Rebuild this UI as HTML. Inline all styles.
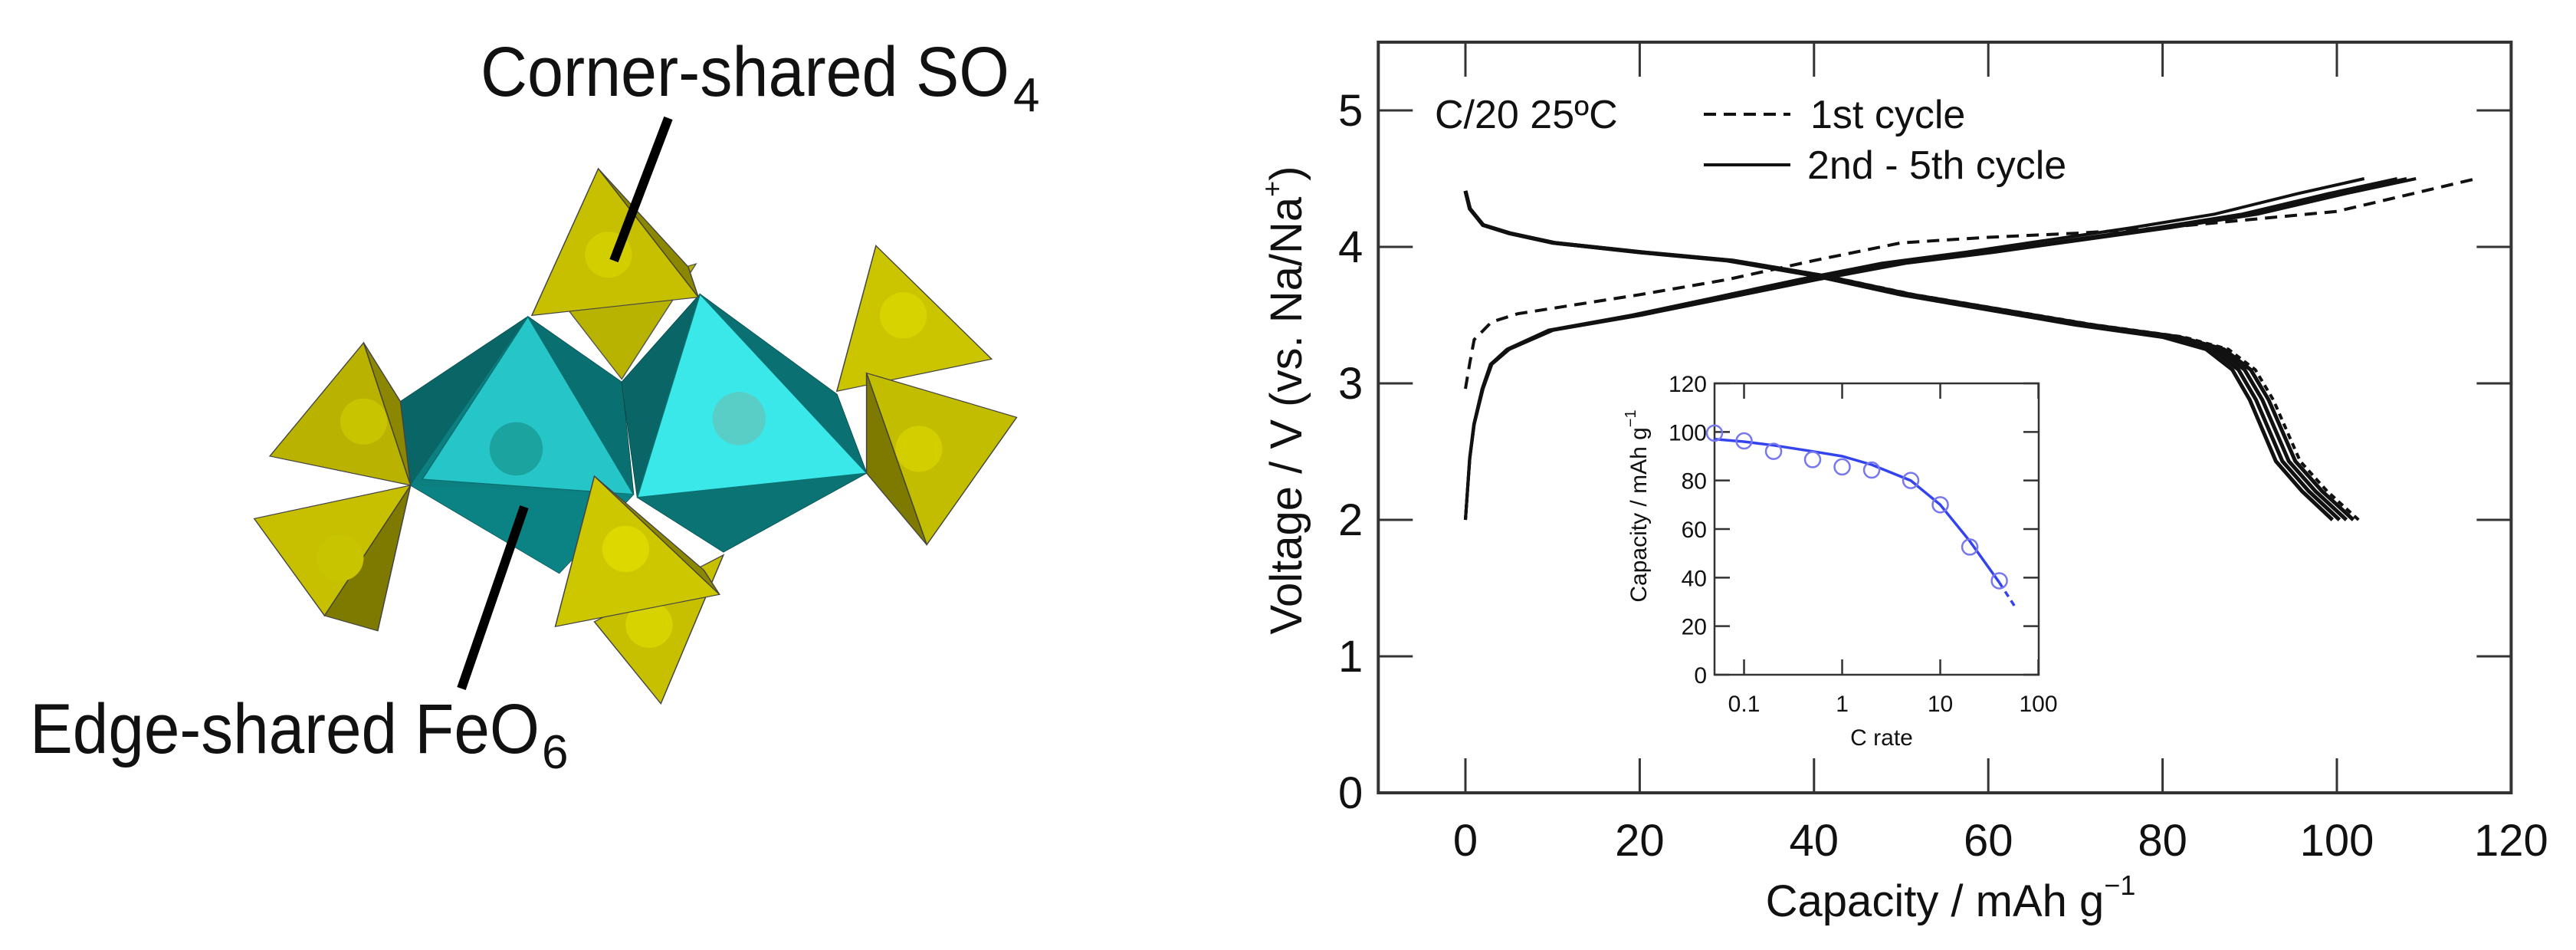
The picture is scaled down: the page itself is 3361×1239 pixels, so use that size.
<!DOCTYPE html>
<html><head><meta charset="utf-8"><style>
html,body{margin:0;padding:0;background:#fff;}
svg{display:block;}
text{font-family:"Liberation Sans",Arial,sans-serif;fill:#111;}
</style></head><body>
<svg id="fig" width="3361" height="1239" viewBox="0 0 3361 1239" xmlns="http://www.w3.org/2000/svg">
<g id="structure" transform="scale(1.0204,0.7911)">
  <polygon points="720,500 795,625 890,435" fill="#b8b200" stroke="#555" stroke-width="1.5"/>
  <polygon points="675,522 512,662 525,800 715,945 810,815 795,630" fill="#0c7f80" stroke="#044" stroke-width="1.5"/>
  <polygon points="675,522 512,662 525,800" fill="#0a6566"/>
  <polygon points="675,522 795,630 810,815" fill="#0a6f70"/>
  <polygon points="675,522 540,790 810,815" fill="#26c6c8" stroke="#0a6f70" stroke-width="1.5"/>
  <polygon points="525,800 810,815 715,945" fill="#0b8384"/>
  <ellipse cx="660" cy="740" rx="34" ry="44" fill="#1a9e98" opacity="0.85"/>
  <polygon points="895,485 795,630 815,820 925,910 1108,780 1070,650" fill="#0c7f80" stroke="#044" stroke-width="1.5"/>
  <polygon points="895,485 795,630 815,820" fill="#0a6566"/>
  <polygon points="895,485 1070,650 1108,780" fill="#0a7071"/>
  <polygon points="895,485 815,820 1108,780" fill="#3ae8ea" stroke="#0a6f70" stroke-width="1.5"/>
  <polygon points="815,820 1108,780 925,910" fill="#0b7374"/>
  <ellipse cx="945" cy="690" rx="34" ry="44" fill="#5fc9c0" opacity="0.85"/>
  <g stroke="#444" stroke-width="1.5">
    <polygon points="765,278 680,520 893,490" fill="#c6c000"/>
    <polygon points="765,278 893,490 880,440" fill="#8c8700"/>
    <ellipse cx="778" cy="420" rx="30" ry="38" fill="#d2ce00" stroke="none"/>
    <polygon points="1120,405 1070,645 1268,592" fill="#cbc500"/>
    <ellipse cx="1155" cy="520" rx="30" ry="38" fill="#d7d300" stroke="none"/>
    <polygon points="1108,615 1300,688 1185,898" fill="#c3bd00"/>
    <polygon points="1108,615 1185,898 1108,780" fill="#7e7a00"/>
    <ellipse cx="1175" cy="740" rx="30" ry="38" fill="#d2ce00" stroke="none"/>
    <polygon points="465,565 345,752 525,800" fill="#b9b300"/>
    <polygon points="465,565 512,662 525,800" fill="#8c8700"/>
    <ellipse cx="465" cy="695" rx="30" ry="38" fill="#c9c400" stroke="none"/>
    <polygon points="325,855 525,800 415,1015" fill="#c6c000"/>
    <polygon points="525,800 483,1040 415,1015" fill="#7e7a00"/>
    <ellipse cx="435" cy="920" rx="30" ry="38" fill="#c9c400" stroke="none"/>
    <polygon points="760,1025 925,915 845,1160" fill="#c6c000"/>
    <ellipse cx="830" cy="1030" rx="30" ry="38" fill="#d7d300" stroke="none"/>
    <polygon points="760,785 920,980 710,1033" fill="#cdc700"/>
    <polygon points="760,785 920,980 900,940" fill="#8c8700"/>
    <ellipse cx="800" cy="905" rx="30" ry="38" fill="#dcd800" stroke="none"/>
  </g>
</g>
<line x1="872" y1="154" x2="801" y2="340" stroke="#000" stroke-width="12"/>
<line x1="684" y1="661" x2="602" y2="898" stroke="#000" stroke-width="12"/>
<text x="627" y="125" font-size="92" textLength="690" lengthAdjust="spacingAndGlyphs">Corner-shared SO</text>
<text x="1322" y="145" font-size="62">4</text>
<text x="39" y="982" font-size="92" textLength="665" lengthAdjust="spacingAndGlyphs">Edge-shared FeO</text>
<text x="707" y="1002" font-size="62">6</text>
<g id="chart"></g>
</svg>
<script>
const xTicks = [0, 20, 40, 60, 80, 100, 120];
const yTicks = [0, 1, 2, 3, 4, 5];
const charge1Cap = [0, 0.5, 1, 3, 6, 11, 20, 30, 40, 50, 60, 70, 80, 90, 100, 108, 116];
const charge1V   = [2.96, 3.15, 3.32, 3.45, 3.51, 3.56, 3.65, 3.76, 3.9, 4.03, 4.07, 4.1, 4.14, 4.2, 4.26, 4.38, 4.5];
const chargeCap  = [0, 0.5, 1, 2, 3, 5, 10, 20, 30, 40, 50, 60, 70, 80, 90, 100, 108];
const chargeV    = [2.0, 2.45, 2.7, 2.96, 3.14, 3.25, 3.39, 3.5, 3.63, 3.76, 3.88, 3.96, 4.05, 4.14, 4.24, 4.39, 4.5];
const chargeScale = [0.955, 0.99, 1.0, 1.01];
const dischCap = [0, 0.5, 2, 5, 10, 20, 30, 40, 50, 60, 70, 80, 85, 88, 90, 93, 96, 99.5];
const dischV   = [4.41, 4.28, 4.16, 4.1, 4.03, 3.96, 3.9, 3.79, 3.65, 3.54, 3.43, 3.34, 3.25, 3.1, 2.88, 2.43, 2.21, 2.0];
const dischScale = [1.0, 1.008, 1.016, 1.024];
const disch1Scale = 1.03;
const rateX = [0.05, 0.1, 0.2, 0.5, 1, 2, 5, 10, 20, 40];
const rateCap = [99.5, 96.3, 92, 88.6, 85.6, 84.3, 80, 70, 52.6, 38.7];
const fitX = [0.05, 0.1, 0.2, 0.5, 1, 2, 5, 10, 20, 40];
const fitY = [97, 96, 94.5, 92, 90, 86.5, 80, 70, 55, 38];
const fitDashX = [40, 60];
const fitDashY = [38, 27];
const insetXTicks = [0.1, 1, 10, 100];
const insetXLabels = ["0.1", "1", "10", "100"];
const insetYTicks = [0, 20, 40, 60, 80, 100, 120];

const NS = "http://www.w3.org/2000/svg";
const chart = document.getElementById("chart");
function el(tag, attrs, parent) {
  const e = document.createElementNS(NS, tag);
  for (const k in attrs) e.setAttribute(k, attrs[k]);
  (parent || chart).appendChild(e);
  return e;
}
const X0 = 1912, XS = 11.37, Y0 = 1034, YS = 178;
const sx = v => X0 + v * XS;
const sy = v => Y0 - v * YS;
const L = sx(-10), R = sx(120), T = sy(5.5), B = sy(0);

function pathOf(xs, ys, fx, fy, k) {
  return xs.map((x, i) => (i ? "L" : "M") + fx(x * (k || 1)).toFixed(1) + "," + fy(ys[i]).toFixed(1)).join(" ");
}

const frame = el("rect", {x: L, y: T, width: R - L, height: B - T, fill: "none", stroke: "#333", "stroke-width": 4});



xTicks.forEach(v => {
  const x = sx(v);
  if (v < 120) {
    const t1 = el("line", {x1: x, y1: B, x2: x, y2: B - 45, stroke: "#333", "stroke-width": 3});
    
    
    const t2 = el("line", {x1: x, y1: T, x2: x, y2: T + 45, stroke: "#333", "stroke-width": 3});
    
    
  }
  const lb = el("text", {x: x, y: B + 82, "font-size": 58, "text-anchor": "middle"});
  lb.textContent = v;
  
  
});
yTicks.forEach(v => {
  const y = sy(v);
  const t1 = el("line", {x1: L, y1: y, x2: L + 45, y2: y, stroke: "#333", "stroke-width": 3});
  
  
  const t2 = el("line", {x1: R, y1: y, x2: R - 45, y2: y, stroke: "#333", "stroke-width": 3});
  
  
  const lb = el("text", {x: L - 20, y: y + 20, "font-size": 58, "text-anchor": "end"});
  lb.textContent = v;
  
  
});

const xt = el("text", {x: 2545, y: 1195, "font-size": 58, "text-anchor": "middle"});
xt.innerHTML = 'Capacity / mAh g<tspan dy="-28" font-size="36">−1</tspan>';


const yt = el("text", {x: 0, y: 0, "font-size": 58, "text-anchor": "middle", transform: "translate(1698,522) rotate(-90)"});
yt.innerHTML = 'Voltage / V (vs. Na/Na<tspan dy="-26" font-size="36">+</tspan><tspan dy="26">)</tspan>';



const c1 = el("path", {d: pathOf(charge1Cap, charge1V, sx, sy), fill: "none", stroke: "#111", "stroke-width": 4, "stroke-dasharray": "16,10"});


const d1 = el("path", {d: pathOf(dischCap, dischV, sx, sy, disch1Scale), fill: "none", stroke: "#111", "stroke-width": 4, "stroke-dasharray": "8,6"});


chargeScale.forEach(k => {
  const p = el("path", {d: pathOf(chargeCap, chargeV, sx, sy, k), fill: "none", stroke: "#111", "stroke-width": 4});
  
  
});
dischScale.forEach(k => {
  const p = el("path", {d: pathOf(dischCap, dischV, sx, sy, k), fill: "none", stroke: "#111", "stroke-width": 5});
  
  
});

const lg1 = el("text", {x: 1872, y: 167, "font-size": 52});
lg1.textContent = "C/20 25ºC";


const ll1 = el("line", {x1: 2223, y1: 149, x2: 2336, y2: 149, stroke: "#111", "stroke-width": 4, "stroke-dasharray": "16,10"});


const lt1 = el("text", {x: 2362, y: 167, "font-size": 52});
lt1.textContent = "1st cycle";


const ll2 = el("line", {x1: 2223, y1: 215, x2: 2336, y2: 215, stroke: "#111", "stroke-width": 4});


const lt2 = el("text", {x: 2358, y: 233, "font-size": 52});
lt2.textContent = "2nd - 5th cycle";



const IL = 2237, IR = 2660, IT = 500, IB = 880;
const ix = v => IL + (Math.log10(v) - Math.log10(0.05)) * 128;
const iy = v => IB - v * (IB - IT) / 120;
const ibg = el("rect", {x: IL, y: IT, width: IR - IL, height: IB - IT, fill: "#fff", stroke: "#333", "stroke-width": 2.5});


insetXTicks.forEach((v, i) => {
  const x = ix(v);
  const t = el("line", {x1: x, y1: IB, x2: x, y2: IB - 20, stroke: "#333", "stroke-width": 2.5});
  
  
  const t2 = el("line", {x1: x, y1: IT, x2: x, y2: IT + 20, stroke: "#333", "stroke-width": 2.5});
  
  
  const lb = el("text", {x: x, y: IB + 48, "font-size": 30, "text-anchor": "middle"});
  lb.textContent = insetXLabels[i];
  
  
});
insetYTicks.forEach(v => {
  const y = iy(v);
  const t = el("line", {x1: IL, y1: y, x2: IL + 20, y2: y, stroke: "#333", "stroke-width": 2.5});
  
  
  const t2 = el("line", {x1: IR, y1: y, x2: IR - 20, y2: y, stroke: "#333", "stroke-width": 2.5});
  
  
  const lb = el("text", {x: IL - 10, y: y + 11, "font-size": 30, "text-anchor": "end"});
  lb.textContent = v;
  
  
});
const ixt = el("text", {x: 2455, y: 972, "font-size": 30, "text-anchor": "middle"});
ixt.textContent = "C rate";


const iyt = el("text", {x: 0, y: 0, "font-size": 30, "text-anchor": "middle", transform: "translate(2148,660) rotate(-90)"});
iyt.innerHTML = 'Capacity / mAh g<tspan dy="-14" font-size="20">−1</tspan>';



const fit = el("path", {d: pathOf(fitX, fitY, ix, iy), fill: "none", stroke: "#3344ee", "stroke-width": 3.5});


const fitD = el("path", {d: pathOf(fitDashX, fitDashY, ix, iy), fill: "none", stroke: "#3344ee", "stroke-width": 3.5, "stroke-dasharray": "8,6"});


rateX.forEach((v, i) => {
  const c = el("circle", {cx: ix(v), cy: iy(rateCap[i]), r: 10, fill: "none", stroke: "#7777ee", "stroke-width": 2.5});
  
  
});
</script>
</body></html>
